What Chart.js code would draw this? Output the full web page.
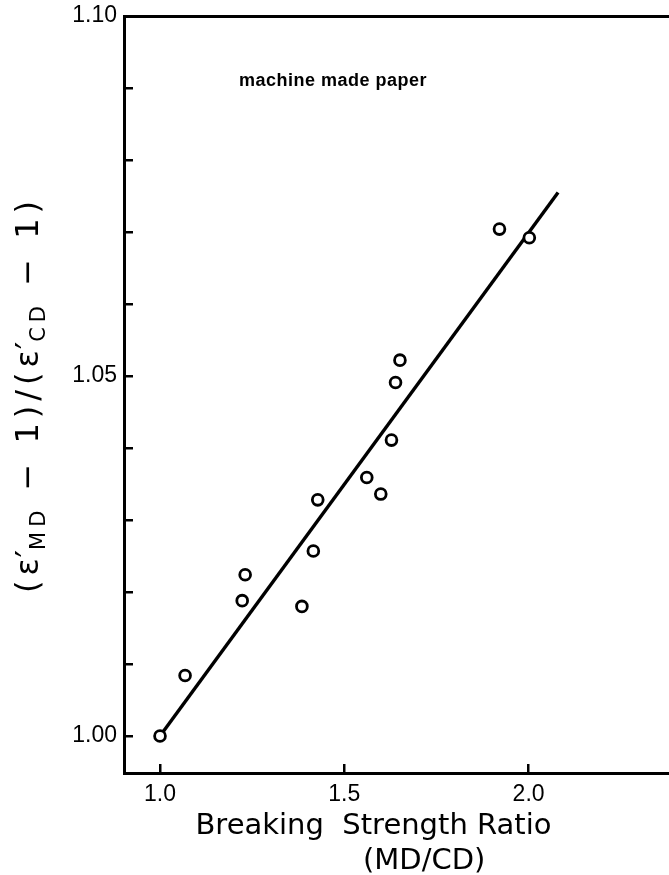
<!DOCTYPE html>
<html>
<head>
<meta charset="utf-8">
<script src="https://cdn.jsdelivr.net/npm/chart.js@4.4.1/dist/chart.umd.min.js"></script>
<style>
html,body{margin:0;padding:0;background:#ffffff;overflow:hidden;}
canvas{display:block;}
</style>
</head>
<body>
<canvas id="chart" width="669" height="875"></canvas>
<script>
// ---------------- data ----------------
const breakingRatio = [1.000, 1.068, 1.223, 1.231, 1.385, 1.416, 1.428, 1.561, 1.599, 1.628, 1.639, 1.651, 1.921, 2.002];
const permittivityRatio = [1.0000, 1.0084, 1.0188, 1.0224, 1.0180, 1.0257, 1.0328, 1.0359, 1.0336, 1.0411, 1.0491, 1.0522, 1.0704, 1.0692];
const fitRatio = [1.00, 2.08];
const fitPermittivity = [1.0000, 1.0755];
const xTickValues = [1.0, 1.5, 2.0];
const xTickLabels = ['1.0', '1.5', '2.0'];
const yTickValues = [1.00, 1.01, 1.02, 1.03, 1.04, 1.05, 1.06, 1.07, 1.08, 1.09, 1.10];
const yTickLabels = ['1.00', '', '', '', '', '1.05', '', '', '', '', '1.10'];
const annotationText = 'machine made paper';
const xTitleLines = ['Breaking  Strength Ratio', '(MD/CD)'];
const yTitleParts = ['(ε', '′', 'MD', ' − 1)/(ε', '′', 'CD', ' − 1)'];

// ---------------- chart ----------------
const FONT = '"DejaVu Sans", sans-serif';
const TICK_FONT = '"Liberation Sans", Arial, sans-serif';

const scatterData = breakingRatio.map((x, i) => ({x: x, y: permittivityRatio[i]}));
const fitData = fitRatio.map((x, i) => ({x: x, y: fitPermittivity[i]}));

const textPlugin = {
  id: 'extraText',
  afterDraw(chart) {
    const {ctx, chartArea} = chart;
    ctx.save();
    ctx.fillStyle = '#000';
    ctx.textAlign = 'left';
    ctx.textBaseline = 'alphabetic';
    ctx.font = 'bold 18px ' + TICK_FONT;
    ctx.letterSpacing = '0.5px';
    ctx.fillText(annotationText, 239, 86);

    // rotated y-axis title with subscripts
    const big = '32px ' + FONT, small = '21px ' + FONT;
    const styles = [
      {f: big, dy: 0, kern: 0},
      {f: big, dy: 0, kern: -4},
      {f: small, dy: 7, kern: -5},
      {f: big, dy: 0, kern: 0},
      {f: big, dy: 0, kern: -4},
      {f: small, dy: 7, kern: -5},
      {f: big, dy: 0, kern: 0}
    ];
    ctx.letterSpacing = '5px';
    let total = 0;
    yTitleParts.forEach((t, i) => {
      ctx.font = styles[i].f;
      total += ctx.measureText(t).width + styles[i].kern;
    });
    ctx.translate(38, (chartArea.top + chartArea.bottom) / 2);
    ctx.rotate(-Math.PI / 2);
    let x = -total / 2;
    yTitleParts.forEach((t, i) => {
      ctx.font = styles[i].f;
      x += styles[i].kern;
      ctx.fillText(t, x, styles[i].dy);
      x += ctx.measureText(t).width;
    });
    ctx.restore();
  }
};

const xShifted = [xTitleLines[0] + '     ', '      ' + xTitleLines[1]];

new Chart(document.getElementById('chart'), {
  type: 'scatter',
  data: {
    datasets: [
      {
        label: 'measured',
        data: scatterData,
        order: 0,
        pointStyle: 'circle',
        pointRadius: 5.4,
        pointBorderWidth: 2.8,
        pointBorderColor: '#000',
        pointBackgroundColor: '#fff',
        showLine: false
      },
      {
        label: 'fit',
        data: fitData,
        order: 1,
        showLine: true,
        borderColor: '#000',
        borderWidth: 3.4,
        pointRadius: 0,
        fill: false
      }
    ]
  },
  options: {
    responsive: false,
    animation: false,
    devicePixelRatio: 1,
    layout: {padding: 0, autoPadding: false},
    plugins: {legend: {display: false}, tooltip: {enabled: false}},
    scales: {
      x: {
        type: 'linear',
        position: 'bottom',
        min: 0.9023,
        max: 2.381,
        afterBuildTicks: s => { s.ticks = xTickValues.map(v => ({value: v})); },
        afterFit: s => { s.height = 102; s.paddingLeft = 0; s.paddingRight = 0; s.paddingTop = 0; s.paddingBottom = 0; },
        ticks: {
          color: '#000',
          font: {family: TICK_FONT, size: 23},
          padding: 17,
          maxRotation: 0,
          autoSkip: false,
          callback: (v, i) => xTickLabels[i]
        },
        grid: {display: true, drawOnChartArea: false, drawTicks: true, tickLength: -9, color: '#000', lineWidth: 2.5},
        border: {display: true, color: '#000', width: 3},
        title: {
          display: true,
          text: xShifted,
          color: '#000',
          font: {family: FONT, size: 29, lineHeight: 1.2},
          padding: {top: 0, bottom: -4}
        }
      },
      xTop: {
        type: 'linear',
        position: 'top',
        min: 0.9023,
        max: 2.381,
        afterFit: s => { s.height = 16; s.paddingLeft = 0; s.paddingRight = 0; s.paddingTop = 0; s.paddingBottom = 0; },
        ticks: {display: false},
        grid: {display: false, drawTicks: false},
        border: {display: true, color: '#000', width: 3}
      },
      y: {
        type: 'linear',
        position: 'left',
        min: 0.99486,
        max: 1.10,
        afterBuildTicks: s => { s.ticks = yTickValues.map(v => ({value: v})); },
        afterFit: s => { s.width = 124; s.paddingTop = 0; s.paddingBottom = 0; s.paddingLeft = 0; s.paddingRight = 0; },
        ticks: {
          color: '#000',
          font: {family: TICK_FONT, size: 23},
          padding: 16,
          autoSkip: false,
          callback: (v, i) => yTickLabels[i]
        },
        grid: {display: true, drawOnChartArea: false, drawTicks: true, tickLength: -9, color: '#000', lineWidth: 2.5},
        border: {display: true, color: '#000', width: 3},
        title: {display: false}
      }
    }
  },
  plugins: [textPlugin]
});
</script>
</body>
</html>
